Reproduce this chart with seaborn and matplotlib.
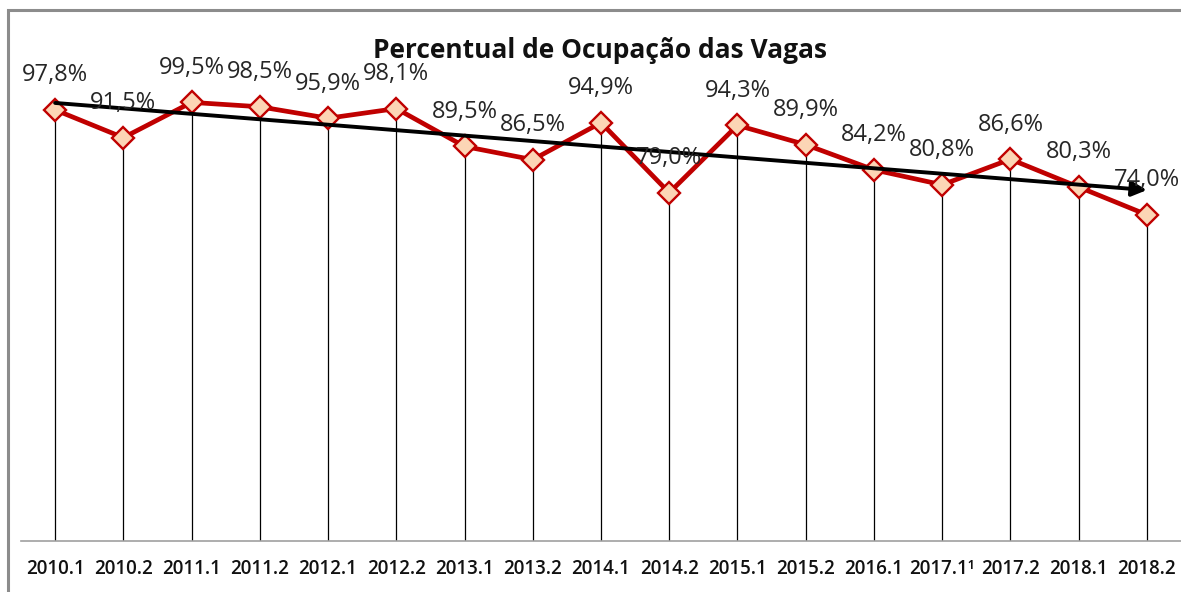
import numpy as np
import pandas as pd
import matplotlib
matplotlib.use("Agg")
import matplotlib.pyplot as plt
import seaborn as sns
from matplotlib.patches import Rectangle

# Data
semesters = ['2010.1', '2010.2', '2011.1', '2011.2', '2012.1', '2012.2', '2013.1',
             '2013.2', '2014.1', '2014.2', '2015.1', '2015.2', '2016.1', '2017.1\u00b9',
             '2017.2', '2018.1', '2018.2']
occupancy = [97.8, 91.5, 99.5, 98.5, 95.9, 98.1, 89.5, 86.5, 94.9, 79.0,
             94.3, 89.9, 84.2, 80.8, 86.6, 80.3, 74.0]

df = pd.DataFrame({'pos': range(len(semesters)), 'semestre': semesters, 'ocupacao': occupancy})

sns.set_theme(style="white")
plt.rcParams['font.family'] = ['Open Sans', 'DejaVu Sans']

fig = plt.figure(figsize=(11.81, 5.92), dpi=100)
ax = fig.add_axes([21 / 1181, 51 / 592, 1160 / 1181, 529 / 592])

# outer grey frame (right/bottom edges cut off like in the original)
fig.patches.append(Rectangle((8 / 1181, -0.1), 1.2, (582 + 59) / 592, transform=fig.transFigure,
                             fill=False, edgecolor='#8c8c8c', linewidth=2.2, zorder=0))

# drop lines
ax.vlines(df['pos'], 0, df['ocupacao'], color='black', linewidth=0.9, zorder=1)

sns.lineplot(data=df, x='pos', y='ocupacao', ax=ax, color='#c00000', linewidth=3.4,
             marker='D', markersize=11, markerfacecolor='#fcd5b5', markeredgecolor='#c00000',
             markeredgewidth=1.7, zorder=3)

# linear trend line with arrow
coef = np.polyfit(df['pos'], df['ocupacao'], 1)
x0, x1 = df['pos'].iloc[0], df['pos'].iloc[-1]
ax.annotate('', xy=(x1, np.polyval(coef, x1)), xytext=(x0, np.polyval(coef, x0)),
            arrowprops=dict(arrowstyle='-|>', color='black', lw=2.8, mutation_scale=22,
                            shrinkA=0, shrinkB=0), zorder=4)

for p, v in zip(df['pos'], df['ocupacao']):
    ax.annotate(f"{v:.1f}%".replace('.', ','), (p, v), xytext=(0, 25), textcoords='offset points',
                ha='center', va='center', fontsize=17, color='#262626', zorder=5)

ax.set_xlim(-0.5, len(semesters) - 0.5)
ax.set_ylim(0, 120)
ax.set_xticks(df['pos'])
ax.set_xticklabels(semesters, fontsize=13.5, fontweight='semibold', color='#111111')
ax.set_yticks([])
ax.set_xlabel('')
ax.set_ylabel('')
ax.tick_params(axis='x', length=0, pad=13)
for s in ['left', 'right', 'top']:
    ax.spines[s].set_visible(False)
ax.spines['bottom'].set_color('#a0a0a0')
ax.spines['bottom'].set_linewidth(1.2)

fig.text(600 / 1181, 1 - 51 / 592, 'Percentual de Ocupação das Vagas', ha='center', va='center',
         fontsize=19, fontweight='bold', color='#111111')

fig.savefig('out.png', dpi=100, facecolor='white')
